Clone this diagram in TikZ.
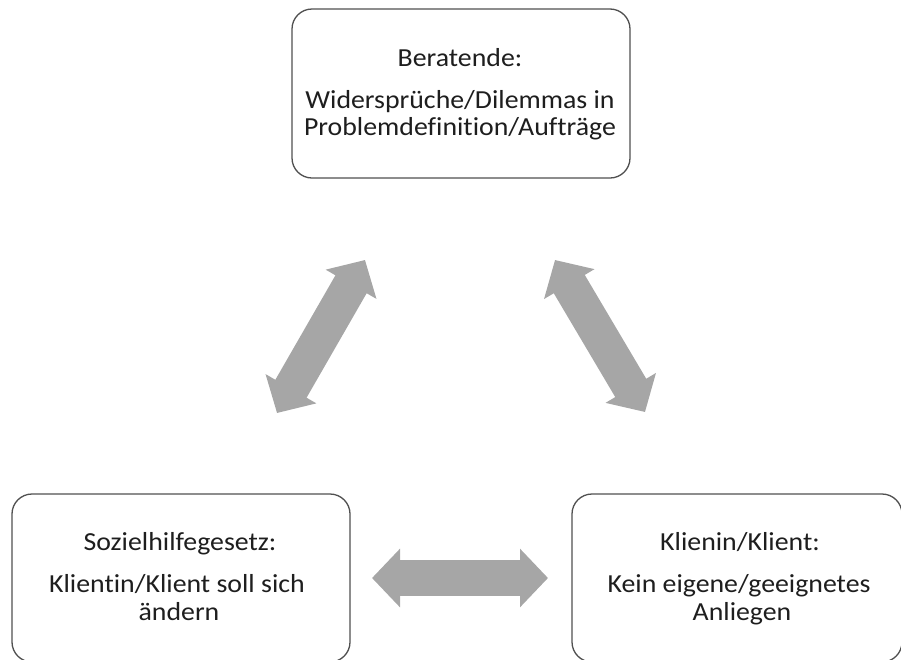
\documentclass[tikz,border=0pt]{standalone}
\usepackage{fontspec}
\setmainfont[Ligatures=NoCommon, FakeStretch=1.07]{Carlito}
\usetikzlibrary{arrows.meta}
\definecolor{arrowgray}{HTML}{A6A6A6}
\definecolor{boxline}{HTML}{505050}
\definecolor{txtcol}{HTML}{1E1E1E}
\begin{document}
\begin{tikzpicture}[x=1pt,y=-1pt,
  box/.style={draw=boxline, line width=1.3pt, rounded corners=20pt, fill=white,
    inner sep=0pt},
  txt/.style={anchor=base, inner sep=0pt, text=txtcol,
    font=\fontsize{26}{28}\selectfont},
  bigarrow/.style={arrowgray, line width=36pt,
    {Triangle[length=28pt,width=57pt]}-{Triangle[length=28pt,width=57pt]}}]
\useasboundingbox (0,0) rectangle (901,659);
\clip (0,0) rectangle (901,659);
% boxes
\node[box, minimum width=338pt, minimum height=169pt] (top) at (461,93.5) {};
\node[box, minimum width=338pt, minimum height=168pt] (left) at (181,578) {};
\node[box, minimum width=330pt, minimum height=168pt] (right) at (737,578) {};
% texts
\node[txt] (t1) at (460,66) {Beratende:};
\node[txt] (t2) at (460,108) {Widersprüche/Dilemmas in};
\node[txt] (t3) at (460,135) {Problemdefinition/Aufträge};
\node[txt] (l1) at (180,550) {Sozielhilfegesetz:};
\node[txt] (l2) at (177,592) {Klientin/Klient soll sich};
\node[txt] (l3) at (179,620) {ändern};
\node[txt] (r1) at (740,550) {Klienin/Klient:};
\node[txt] (r2) at (739,592) {Kein eigene/geeignetes};
\node[txt] (r3) at (742,620) {Anliegen};
% arrows
\coordinate (la) at (277,413);
\coordinate (lb) at (365,260);
\coordinate (ra) at (555,260);
\coordinate (rb) at (645,412);
\coordinate (ha) at (372,578);
\coordinate (hb) at (548,578);
\draw[bigarrow] (la) -- (lb);
\draw[bigarrow] (ra) -- (rb);
\draw[bigarrow] (ha) -- (hb);
\end{tikzpicture}
\end{document}
